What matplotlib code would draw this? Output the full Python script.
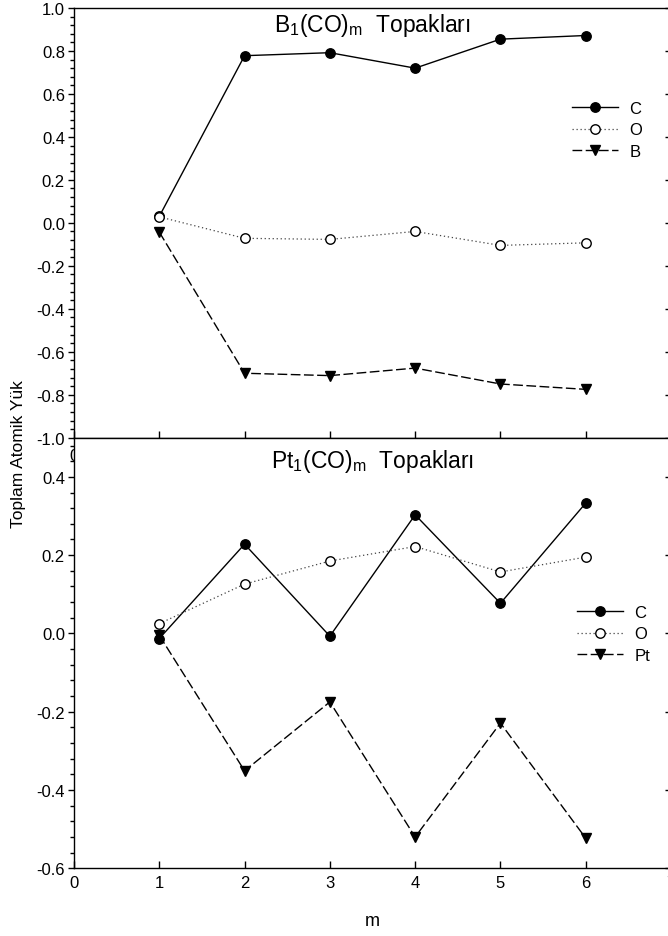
import numpy as np
import matplotlib
matplotlib.use('Agg')
import matplotlib.pyplot as plt
from matplotlib.ticker import MultipleLocator, FormatStrFormatter

# m values (number of CO)
m_vals = [1, 2, 3, 4, 5, 6]

# B1(CO)m clusters
b_C = [0.030, 0.778, 0.792, 0.720, 0.855, 0.872]
b_O = [0.028, -0.072, -0.077, -0.040, -0.105, -0.093]
b_B = [-0.043, -0.700, -0.711, -0.676, -0.750, -0.775]

# Pt1(CO)m clusters
pt_C = [-0.013, 0.228, -0.007, 0.303, 0.077, 0.333]
pt_O = [0.025, 0.126, 0.185, 0.222, 0.157, 0.195]
pt_Pt = [-0.005, -0.351, -0.175, -0.520, -0.229, -0.523]

x_ticks = [0, 1, 2, 3, 4, 5, 6, 7]

plt.rcParams.update({
	'font.family': ['Liberation Sans', 'DejaVu Sans'],
	'font.size': 12,
	'mathtext.default': 'regular',
	'axes.unicode_minus': False,
	'axes.linewidth': 1.0,
})

W, H = 668, 937
fig = plt.figure(figsize=(W / 100, H / 100), dpi=100)
left = 74 / W
width = 597 / W
ax1 = fig.add_axes([left, 1 - 438.7 / H, width, 429.7 / H])
ax2 = fig.add_axes([left, 1 - 869.3 / H, width, 430.6 / H])


def draw_panel(ax, c, o, third, third_label):
	ax.plot(m_vals, third, color='k', linewidth=1.0, dashes=(7, 2.5), marker='v', markersize=7.5, markerfacecolor='k', markeredgecolor='k', label=third_label, zorder=2)
	ax.plot(m_vals, c, color='k', linewidth=1.0, linestyle='-', marker='o', markersize=6.8, markerfacecolor='k', markeredgecolor='k', label='C', zorder=3)
	ax.plot(m_vals, o, color='#444444', linewidth=0.9, linestyle=(0, (1, 2.2)), marker='o', markersize=6.8, markerfacecolor='white', markeredgecolor='k', markeredgewidth=1.0, label='O', zorder=4)
	ax.set_xlim(0, 7)
	ax.set_xticks(x_ticks)
	ax.yaxis.set_major_locator(MultipleLocator(0.2))
	ax.yaxis.set_minor_locator(MultipleLocator(0.04))
	ax.yaxis.set_major_formatter(FormatStrFormatter('%.1f'))
	ax.tick_params(axis='y', which='major', direction='out', length=4, width=1, pad=2.5, labelsize=12, right=False)
	ax.tick_params(axis='y', which='minor', direction='out', length=3, width=1, right=False)
	ax.tick_params(axis='x', which='major', direction='in', length=5, width=1, labelsize=12, top=False)
	sec = ax.secondary_yaxis('right')
	sec.yaxis.set_major_locator(MultipleLocator(0.2))
	sec.tick_params(direction='in', length=4, width=1, labelright=False)
	sec.yaxis.set_minor_locator(MultipleLocator(10))
	handles, labels = ax.get_legend_handles_labels()
	order = [1, 2, 0]
	return [handles[i] for i in order], [labels[i] for i in order]


legend_kw = dict(loc='upper left', bbox_transform=fig.transFigure, frameon=False, borderpad=0, borderaxespad=0,
	handlelength=2.75, handletextpad=0.7, labelspacing=0.38, fontsize=12)

h1, l1 = draw_panel(ax1, b_C, b_O, b_B, 'B')
ax1.set_ylim(-1.0, 1.0)
# only the "0" of the upper panel peeks out below it, the rest is hidden by the lower panel
ax1.set_xticklabels(['0'] + [''] * (len(x_ticks) - 1))
ax1.tick_params(axis='x', pad=7.5)
ax1.text(0.5, 0.9465, r'$B_1(CO)_m$  Topakları', transform=ax1.transAxes, ha='center', va='baseline', fontsize=16.5)
ax1.legend(h1, l1, bbox_to_anchor=(572 / W, 1 - 102 / H), **legend_kw)

h2, l2 = draw_panel(ax2, pt_C, pt_O, pt_Pt, 'Pt')
ax2.set_ylim(-0.6, 0.5)
ax2.tick_params(axis='x', pad=5)
ax2.text(0.5, 0.9313, r'$Pt_1(CO)_m$  Topakları', transform=ax2.transAxes, ha='center', va='baseline', fontsize=16.5)
ax2.legend(h2, l2, bbox_to_anchor=(577 / W, 1 - 606 / H), **legend_kw)

fig.text(19 / W, 1 - 454 / H, 'Toplam Atomik Yük', rotation=90, ha='center', va='center', fontsize=12.5)
fig.text(372 / W, 1 - 922 / H, 'm', ha='center', va='center', fontsize=13)

fig.savefig('out.png', dpi=100)
